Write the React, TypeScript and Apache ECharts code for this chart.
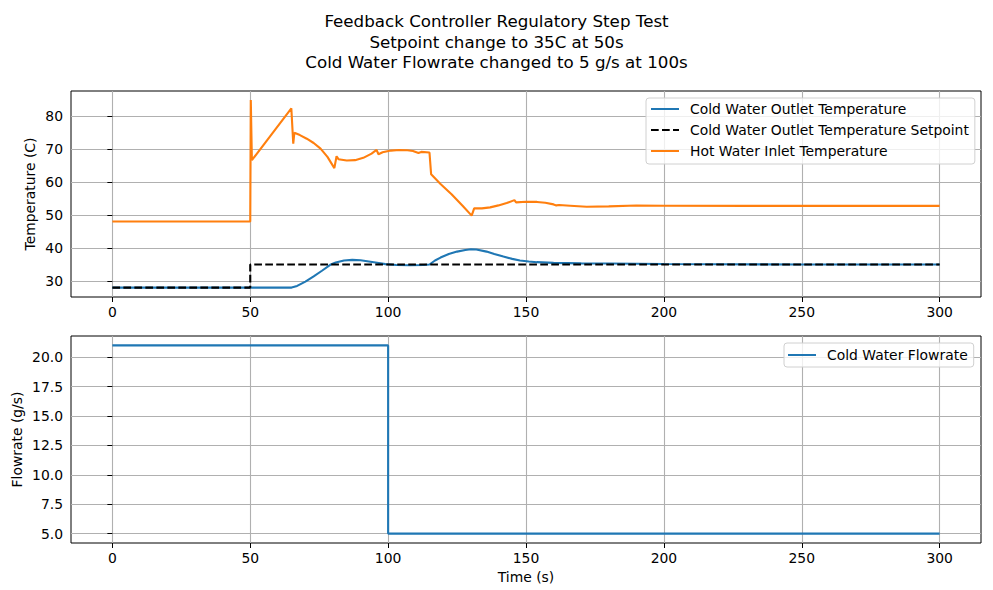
import React, { useEffect, useRef } from "react";
import * as echarts from "echarts";

const TITLE_LINES = [
  "Feedback Controller Regulatory Step Test",
  "Setpoint change to 35C at 50s",
  "Cold Water Flowrate changed to 5 g/s at 100s",
];

const X_TICKS = [0, 50, 100, 150, 200, 250, 300];
const TEMP_TICKS = [30, 40, 50, 60, 70, 80];
const FLOW_TICKS = [5, 7.5, 10, 12.5, 15, 17.5, 20];

// [time (s), temperature (C)]
const coldOutlet: [number, number][] = [
  [0, 28], [65, 28], [67, 28.5], [70, 29.8], [73, 31.4], [76, 33.1], [79, 34.9],
  [81, 35.6], [84, 36.2], [87, 36.4], [90, 36.3], [93, 35.9], [96, 35.5], [99, 35.1],
  [103, 34.85], [108, 34.75], [113, 34.85], [115, 35.0], [117, 36.2], [119, 37.1],
  [122, 38.2], [125, 38.9], [128, 39.4], [130, 39.6], [132, 39.55], [135.7, 38.9],
  [138.5, 38.2], [141.8, 37.4], [145, 36.7], [147.8, 36.2], [151, 35.9], [153.9, 35.7],
  [160, 35.5], [170, 35.35], [180, 35.3], [200, 35.15], [220, 35.05], [250, 35.0], [300, 35.0],
];

const setpoint: [number, number][] = [
  [0, 28], [50, 28], [50, 35], [300, 35],
];

const hotInlet: [number, number][] = [
  [0, 48], [50, 48], [50.2, 84.8], [50.6, 66.6], [64.9, 82.3], [65.6, 71.6], [66, 74.9],
  [68, 74.2], [70.5, 73.1], [73, 71.8], [75.5, 70.1], [78, 67.6], [80.5, 64.2],
  [81.3, 67.8], [82, 66.9], [85, 66.5], [88, 66.6], [91, 67.3], [94, 68.6], [95.8, 69.7],
  [96.5, 68.4], [98, 69.0], [101, 69.5], [104, 69.7], [107, 69.6], [109, 69.4],
  [111, 68.8], [112, 69.1], [115, 68.9], [115.6, 62.3], [119, 59.4], [123, 56.3],
  [127, 52.8], [130.3, 49.8], [131.2, 52.0], [134, 52.0], [137, 52.3], [140, 52.9],
  [143, 53.6], [145.8, 54.5], [146.4, 53.8], [150, 54.0], [154, 53.95], [157, 53.7],
  [160, 53.2], [161, 52.9], [162, 53.0], [166, 52.8], [172, 52.5], [180, 52.6],
  [190, 52.85], [200, 52.8], [230, 52.75], [300, 52.75],
];

// [time (s), flowrate (g/s)]
const coldFlow: [number, number][] = [
  [0, 21], [100, 21], [100, 5], [300, 5],
];

const FONT = "DejaVu Sans";
const FS = 13.9;
const BLUE = "#1f77b4";
const ORANGE = "#ff7f0e";
const GRIDC = "#b0b0b0";

function xAxisCfg(gridIndex: number, name?: string) {
  return {
    type: "value",
    gridIndex,
    min: -15,
    max: 315,
    name: name || "",
    nameLocation: "middle",
    nameGap: 27,
    nameMoveOverlap: false,
    nameTextStyle: { fontFamily: FONT, fontSize: FS, color: "#000" },
    axisLine: { show: false },
    axisTick: { show: true, length: 5, lineStyle: { color: "#000", width: 1 }, customValues: X_TICKS },
    axisLabel: { fontFamily: FONT, fontSize: FS, color: "#000", margin: 8, customValues: X_TICKS },
    splitLine: { show: true, lineStyle: { color: GRIDC, width: 1.1 } },
  };
}

function yAxisCfg(gridIndex: number, min: number, max: number, ticks: number[], name: string, nameGap: number, decimals: number) {
  return {
    type: "value",
    gridIndex,
    min,
    max,
    name,
    nameLocation: "middle",
    nameGap,
    nameMoveOverlap: false,
    nameTextStyle: { fontFamily: FONT, fontSize: FS, color: "#000" },
    axisLine: { show: false },
    axisTick: { show: true, length: 5, lineStyle: { color: "#000", width: 1 }, customValues: ticks },
    axisLabel: {
      fontFamily: FONT, fontSize: FS, color: "#000", margin: 8, customValues: ticks,
      formatter: (v: number) => v.toFixed(decimals),
    },
    splitLine: { show: true, lineStyle: { color: GRIDC, width: 1.1 } },
  };
}

const legendBase = {
  orient: "vertical",
  backgroundColor: "rgba(255,255,255,0.8)",
  borderColor: "#d0d0d0",
  borderWidth: 1,
  borderRadius: 3,
  itemWidth: 28,
  itemHeight: 14,
  itemGap: 7,
  itemStyle: { opacity: 0 },
  textStyle: { fontFamily: FONT, fontSize: FS, color: "#000", padding: [0, 0, 0, 6] },
};

export default function App() {
  const ref = useRef<HTMLDivElement>(null);
  useEffect(() => {
    if (!ref.current) return;
    const chart = echarts.init(ref.current, undefined, { renderer: "svg" });
    const lineSeries = (name: string, data: [number, number][], color: string, idx: number, dashed = false) => ({
      type: "line",
      name,
      data,
      xAxisIndex: idx,
      yAxisIndex: idx,
      showSymbol: false,
      symbol: "none",
      lineStyle: { color, width: 2.1, type: dashed ? [7.7, 3.3] : "solid" },
      itemStyle: { color },
      z: 3,
    });
    const gridBase = {
      left: 71, right: 12, show: true, borderColor: "#000", borderWidth: 1,
      backgroundColor: "transparent", containLabel: false, outerBoundsMode: "none",
    };
    chart.setOption({
      animation: false,
      backgroundColor: "#fff",
      title: {
        text: TITLE_LINES.join("\n"),
        left: "center",
        top: 6,
        textStyle: { fontFamily: FONT, fontSize: 16.7, fontWeight: "normal", color: "#000", lineHeight: 20.5 },
      },
      grid: [
        { ...gridBase, top: 91, height: 206 },
        { ...gridBase, top: 336, height: 207 },
      ],
      xAxis: [xAxisCfg(0), xAxisCfg(1, "Time (s)")],
      yAxis: [
        yAxisCfg(0, 25.15, 87.55, TEMP_TICKS, "Temperature (C)", 34, 0),
        yAxisCfg(1, 4.2, 21.8, FLOW_TICKS, "Flowrate (g/s)", 47, 1),
      ],
      legend: [
        {
          ...legendBase,
          left: 646,
          top: 98,
          padding: [4, 6, 6, 4],
          data: [
            "Cold Water Outlet Temperature",
            "Cold Water Outlet Temperature Setpoint",
            "Hot Water Inlet Temperature",
          ],
        },
        {
          ...legendBase,
          left: 784,
          top: 343,
          padding: [5, 6, 5, 3],
          data: ["Cold Water Flowrate"],
        },
      ],
      series: [
        lineSeries("Cold Water Outlet Temperature", coldOutlet, BLUE, 0),
        lineSeries("Cold Water Outlet Temperature Setpoint", setpoint, "#000", 0, true),
        lineSeries("Hot Water Inlet Temperature", hotInlet, ORANGE, 0),
        lineSeries("Cold Water Flowrate", coldFlow, BLUE, 1),
      ],
    });
    return () => chart.dispose();
  }, []);
  return <div ref={ref} style={{ position: "fixed", left: 0, top: 0, width: 993, height: 590 }} />;
}
